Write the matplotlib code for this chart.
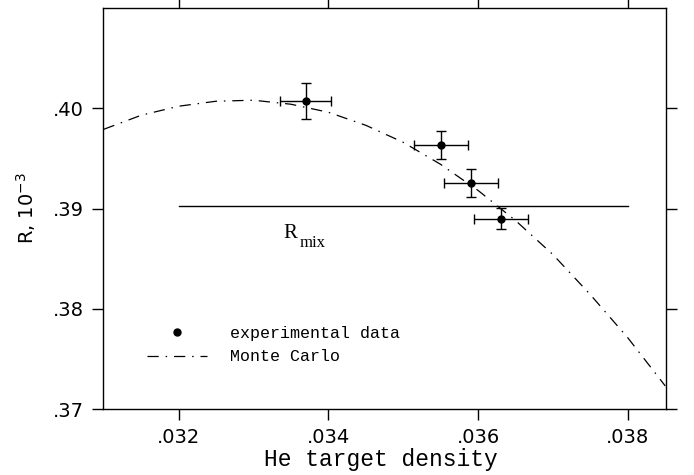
import numpy as np
from matplotlib import pyplot as plt
from matplotlib.lines import Line2D

# experimental points
x_data = [0.0337, 0.0355, 0.0359, 0.0363]
y_data = [0.4007, 0.3963, 0.3925, 0.3890]
x_err = [0.00034, 0.00036, 0.00036, 0.00036]
y_err = [0.0018, 0.0014, 0.0014, 0.00105]

# Monte Carlo curve
mc_x = [0.0310, 0.0315, 0.0320, 0.0325, 0.0330, 0.0335, 0.0340, 0.0345,
        0.0350, 0.0355, 0.0360, 0.0365, 0.0370, 0.0375, 0.0380, 0.0385]
mc_y = [0.3979, 0.3993, 0.4002, 0.4007, 0.4008, 0.4004, 0.3996, 0.3983,
        0.3966, 0.3944, 0.3918, 0.3888, 0.3854, 0.3814, 0.3771, 0.3723]

# R_mix level
rmix_x = [0.032, 0.038]
rmix_y = [0.39023, 0.39023]

x_ticks = [0.032, 0.034, 0.036, 0.038]
x_ticklabels = ['.032', '.034', '.036', '.038']
y_ticks = [0.37, 0.38, 0.39, 0.40]
y_ticklabels = ['.37', '.38', '.39', '.40']

plt.rcParams['mathtext.fontset'] = 'dejavusans'

fig = plt.figure(figsize=(6.94, 4.75), dpi=100)
ax = fig.add_axes([0.1484, 0.1389, 0.8113, 0.8443])

mc_dash = (9, 5.5, 1.2, 5.5)
ax.plot(mc_x, mc_y, color='black', lw=0.9, dashes=mc_dash)
ax.plot(rmix_x, rmix_y, color='black', lw=1.0)
ax.errorbar(x_data, y_data, xerr=x_err, yerr=y_err, fmt='o', color='black',
            ms=5, elinewidth=1.0, capsize=3.5, capthick=1.0)

ax.text(0.0334, 0.3871, 'R', family='Liberation Serif', fontsize=15,
        ha='left', va='baseline')
ax.text(0.03362, 0.3862, 'mix', family='Liberation Serif', fontsize=12,
        ha='left', va='baseline')

ax.set_xlim(0.03099, 0.03851)
ax.set_ylim(0.37, 0.41)
ax.set_xticks(x_ticks)
ax.set_xticklabels(x_ticklabels)
ax.set_yticks(y_ticks)
ax.set_yticklabels(y_ticklabels)
ax.tick_params(direction='out', length=8, width=1.0, labelsize=14, pad=6,
               top=True, right=True)

for s in ax.spines.values():
    s.set_linewidth(1.0)

ax.set_xlabel('He target density', family='Liberation Mono', fontsize=16.5)
ax.xaxis.set_label_coords(0.493, -0.096)
ax.set_ylabel(r'R, $10^{-3}$', fontsize=14)
ax.yaxis.set_label_coords(-0.115, 0.5)

handles = [Line2D([], [], ls='none', marker='o', color='black', ms=5),
           Line2D([], [], color='black', lw=0.9, dashes=mc_dash)]
ax.legend(handles, ['experimental data', 'Monte Carlo'], frameon=False,
          loc='upper left', bbox_to_anchor=(147 / 694, 1 - 326 / 475),
          bbox_transform=fig.transFigure, borderaxespad=0, borderpad=0,
          handlelength=3.6, handletextpad=1.4, labelspacing=0.5,
          prop={'family': 'Liberation Mono', 'size': 12})

plt.savefig('out.png', dpi=100)
